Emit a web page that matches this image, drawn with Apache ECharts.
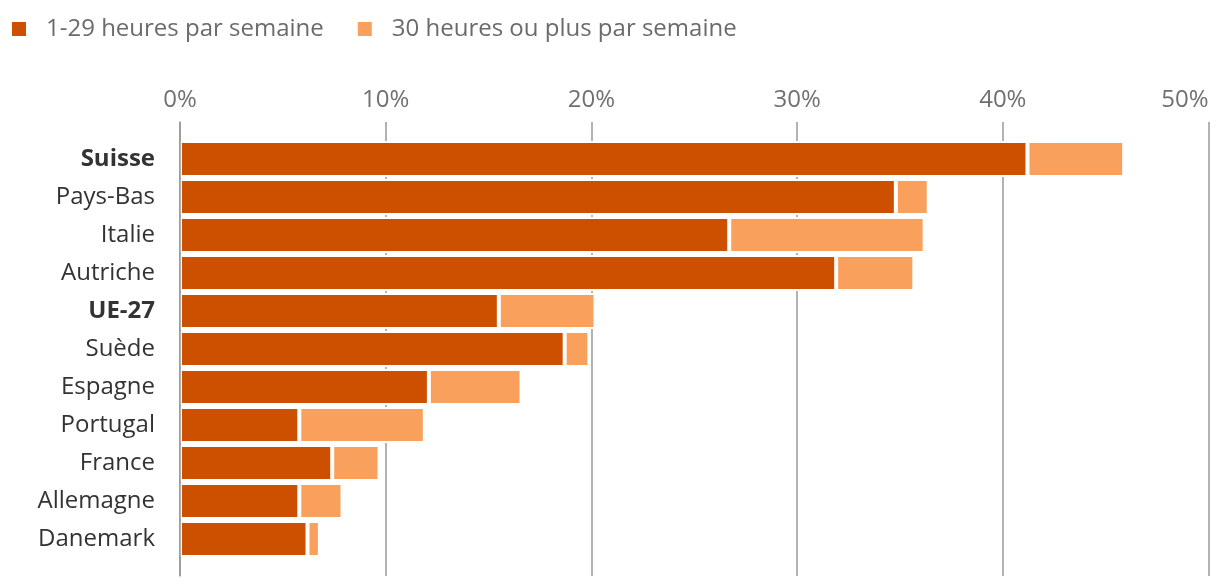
<!DOCTYPE html>
<html>
<head>
<meta charset="utf-8">
<script src="https://cdn.jsdelivr.net/npm/echarts@6/dist/echarts.min.js"></script>
<style>html,body{margin:0;padding:0;background:#fff}#c{width:1220px;height:588px}</style>
</head>
<body>
<div id="c"></div>
<script>
const countries = ['Suisse','Pays-Bas','Italie','Autriche','UE-27','Suède','Espagne','Portugal','France','Allemagne','Danemark'];
const boldCountries = ['Suisse','UE-27'];
const partTime = [41.2, 34.8, 26.7, 31.9, 15.5, 18.7, 12.1, 5.8, 7.4, 5.8, 6.2];
const fullTime = [4.7, 1.6, 9.5, 3.8, 4.7, 1.2, 4.5, 6.1, 2.3, 2.1, 0.6];
const seriesNames = ['1-29 heures par semaine', '30 heures ou plus par semaine'];
const colors = ['#cc5000', '#f9a05c'];
const xTicks = [0, 10, 20, 30, 40, 50];

const font = 'Open Sans';
const chart = echarts.init(document.getElementById('c'), null, {renderer: 'canvas'});
chart.setOption({
  animation: false,
  textStyle: {fontFamily: font},
  color: colors,
  legend: {
    left: 5, top: 12,
    icon: 'rect', itemWidth: 16, itemHeight: 16, itemGap: 32,
    textStyle: {fontSize: 24, color: '#6b6b6b', fontFamily: font, padding: [0, 0, 0, 14]},
    data: seriesNames
  },
  grid: [
    {left: 180, right: 11.5, top: 140, height: 418, outerBoundsMode: 'none', containLabel: false},
    {left: 180, right: 11.5, top: 122, bottom: 12, outerBoundsMode: 'none', containLabel: false}
  ],
  xAxis: [
    {gridIndex: 0, type: 'value', min: xTicks[0], max: xTicks[xTicks.length-1], show: false},
    {gridIndex: 1, type: 'value', position: 'top', min: xTicks[0], max: xTicks[xTicks.length-1], interval: 10,
     axisLine: {show: false}, axisTick: {show: false},
     axisLabel: {formatter: '{value}%', fontSize: 24, color: '#707070', margin: 10, fontFamily: font, alignMaxLabel: 'right'},
     splitLine: {show: true, lineStyle: {color: '#999', width: 1.5}}}
  ],
  yAxis: [
    {gridIndex: 0, type: 'category', inverse: true, data: countries,
     axisLine: {show: false}, axisTick: {show: false}, splitLine: {show: false},
     axisLabel: {fontSize: 24, color: '#333', margin: 25, fontFamily: font,
       formatter: v => boldCountries.includes(v) ? '{b|' + v + '}' : v,
       rich: {b: {fontWeight: 'bold', fontSize: 24, color: '#333', fontFamily: font}}}},
    {gridIndex: 1, type: 'value', min: 0, max: 1, z: 10,
     axisLine: {show: true, lineStyle: {color: '#999', width: 1.5}},
     axisTick: {show: false}, axisLabel: {show: false}, splitLine: {show: false}}
  ],
  series: [
    {name: seriesNames[0], type: 'bar', stack: 'a', xAxisIndex: 0, yAxisIndex: 0, data: partTime,
     barWidth: 36, itemStyle: {color: colors[0], borderColor: '#fff', borderWidth: 2}},
    {name: seriesNames[1], type: 'bar', stack: 'a', xAxisIndex: 0, yAxisIndex: 0, data: fullTime,
     barWidth: 36, itemStyle: {color: colors[1], borderColor: '#fff', borderWidth: 2}}
  ]
});
</script>
</body>
</html>
